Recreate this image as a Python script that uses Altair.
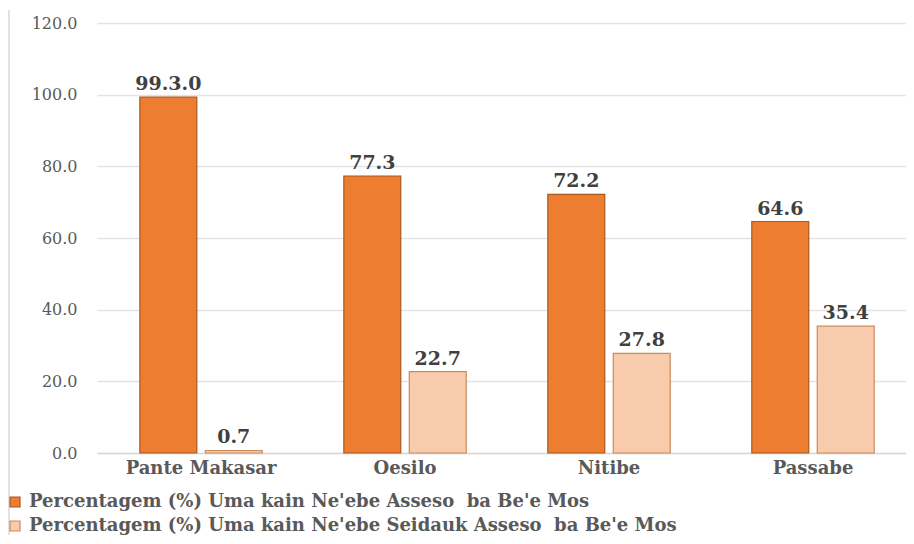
import altair as alt
import pandas as pd

categories = ["Pante Makasar", "Oesilo", "Nitibe", "Passabe"]
series_names = [
    "Percentagem (%) Uma kain Ne'ebe Asseso \u00a0ba Be'e Mos",
    "Percentagem (%) Uma kain Ne'ebe Seidauk Asseso \u00a0ba Be'e Mos",
]
values_asseso = [99.3, 77.3, 72.2, 64.6]
values_seidauk = [0.7, 22.7, 27.8, 35.4]
labels_asseso = ["99.3.0", "77.3", "72.2", "64.6"]
labels_seidauk = ["0.7", "22.7", "27.8", "35.4"]

rows = []
for i, c in enumerate(categories):
    rows.append({"cat": c, "series": series_names[0], "value": values_asseso[i], "label": labels_asseso[i]})
    rows.append({"cat": c, "series": series_names[1], "value": values_seidauk[i], "label": labels_seidauk[i]})
df = pd.DataFrame(rows)

FONT = "DejaVu Serif"
colors = ["#ED7D31", "#F8CBAD"]
strokes = ["#A9591F", "#C98A5C"]

xscale = alt.Scale(paddingInner=0.4, paddingOuter=0.183, align=0.574)
xoscale = alt.Scale(paddingInner=0.13)

x_enc = alt.X("cat:N", sort=categories, title=None, scale=xscale,
              axis=alt.Axis(labelAngle=0, labelFont=FONT, labelFontWeight="bold",
                            labelFontSize=18, labelColor="#595959", labelPadding=6,
                            ticks=False, domain=True, domainColor="#D9D9D9", domainWidth=1.5))
xo_enc = alt.XOffset("series:N", sort=series_names, scale=xoscale)
y_enc = alt.Y("value:Q", title=None,
              scale=alt.Scale(domain=[0, 120], nice=False),
              axis=alt.Axis(values=[0, 20, 40, 60, 80, 100, 120], format=".1f",
                            labelFont=FONT, labelFontSize=16, labelColor="#595959",
                            labelPadding=20, ticks=False, domain=False,
                            gridColor="#E3E3E3", gridWidth=1.5))

base = alt.Chart(df)

bars = base.mark_bar(strokeWidth=1.2).encode(
    x=x_enc, xOffset=xo_enc, y=y_enc,
    color=alt.Color("series:N", sort=series_names, title=None,
                    scale=alt.Scale(domain=series_names, range=colors),
                    legend=alt.Legend(orient="none", legendX=-91, legendY=470,
                                      direction="vertical", symbolType="square",
                                      symbolSize=100, symbolStrokeWidth=1.2,
                                      symbolStrokeColor="#A9591F",
                                      labelFont=FONT, labelFontWeight="bold",
                                      labelFontSize=18, labelColor="#595959",
                                      labelLimit=1000, rowPadding=6, labelOffset=5)),
    stroke=alt.Stroke("series:N", sort=series_names,
                      scale=alt.Scale(domain=series_names, range=strokes), legend=None),
)

text = base.mark_text(dy=-13, font=FONT, fontWeight="bold", fontSize=19,
                      color="#404040").encode(
    x=alt.X("cat:N", sort=categories, scale=xscale),
    xOffset=alt.XOffset("series:N", sort=series_names, scale=xoscale),
    y="value:Q", text="label:N",
)

frame = alt.Chart(pd.DataFrame({"a": [0]})).mark_rule(color="#D9D9D9", strokeWidth=1.5).encode(
    x=alt.value(-88), y=alt.value(-13), y2=alt.value(520)
)

chart = alt.layer(frame, bars, text).properties(
    width=809, height=430,
    padding={"left": 89, "top": 15, "right": 0, "bottom": 82},
    autosize=alt.AutoSizeParams(type="none"),
).configure_view(stroke=None)

chart.save("out.html", embed_options={"renderer": "svg", "actions": False})
